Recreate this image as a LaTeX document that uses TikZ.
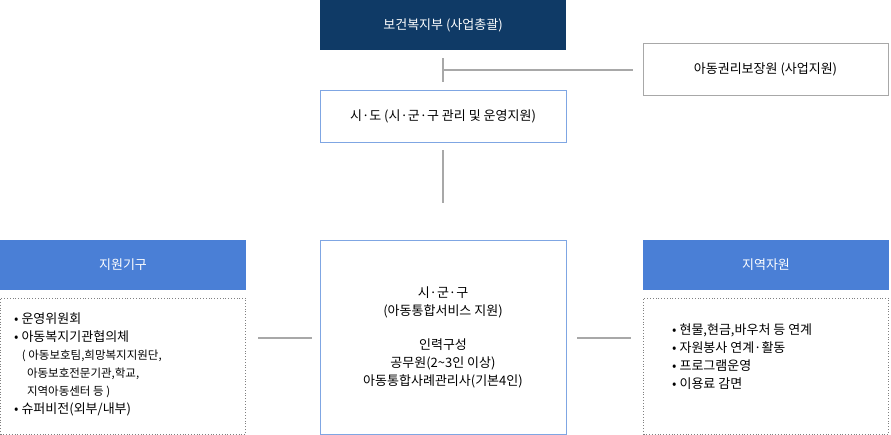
\documentclass[tikz,border=0pt]{standalone}
\usepackage{fontspec}
\setmainfont{Noto Sans CJK KR}
\usetikzlibrary{positioning}
\definecolor{navy}{HTML}{0F3A66}
\definecolor{headblue}{HTML}{4A7FD6}
\definecolor{lineblue}{HTML}{7FA6E3}
\definecolor{linegray}{HTML}{A8A8A8}
\begin{document}
\begin{tikzpicture}[x=1pt,y=-1pt,font=\fontsize{13}{18}\selectfont,
  box/.style={draw=lineblue,line width=0.8pt,minimum width=246pt,inner sep=0pt},
  head/.style={fill=headblue,text=white,minimum width=246pt,minimum height=50pt,inner sep=0pt},
  dotbox/.style={draw=gray,dotted,line width=0.8pt,minimum width=245pt,minimum height=136pt,inner sep=0pt},
  link/.style={linegray,line width=2pt}]
\useasboundingbox (0,0) rectangle (891,434);

% top row
\node[fill=navy,text=white,minimum width=246pt,minimum height=50pt,inner sep=0pt] (mohw) at (443,25) {보건복지부 (사업총괄)};
\node[draw=linegray,line width=0.8pt,minimum width=245pt,minimum height=52pt,inner sep=0pt] (rights) at (765.5,69) {아동권리보장원 (사업지원)};
\node[box,minimum height=52pt] (sido) at (443,116) {시·도 (시·군·구 관리 및 운영지원)};

% centre
\node[box,minimum height=194pt,align=center] (sigungu) at (443,337)
  {시·군·구\\(아동통합서비스 지원)\\[16pt]인력구성\\공무원(2\textasciitilde3인 이상)\\아동통합사례관리사(기본4인)};

% left side
\node[head] (supporth) at (123,265) {지원기구};
\node[dotbox] (support) at (123,366) {};
\node[anchor=north west,align=left,inner sep=0pt] (supportt) at (14,313)
  {•\ 운영위원회\\•\ 아동복지기관협의체\\
   {\fontsize{11.5}{16}\selectfont\ \ \ ( 아동보호팀,희망복지지원단,}\\
   {\fontsize{11.5}{16}\selectfont\ \ \ \ \ 아동보호전문기관,학교,}\\
   {\fontsize{11.5}{16}\selectfont\ \ \ \ \ 지역아동센터 등 )}\\
   •\ 슈퍼비전(외부/내부)};

% right side
\node[head] (resh) at (766,265) {지역자원};
\node[dotbox] (res) at (766,366) {};
\node[anchor=north west,align=left,inner sep=0pt] (rest) at (672,324)
  {•\ 현물,현금,바우처 등 연계\\•\ 자원봉사 연계·활동\\•\ 프로그램운영\\•\ 이용료 감면};

% connectors
\coordinate (t1) at (443,58);
\coordinate (t2) at (443,82);
\coordinate (j) at (443,70);
\coordinate (r1) at (633,70);
\coordinate (s1) at (443,150);
\coordinate (s2) at (443,203);
\coordinate (l1) at (258,338);
\coordinate (l2) at (312,338);
\coordinate (q1) at (577,338);
\coordinate (q2) at (631,338);
\draw[link] (t1) -- (t2);
\draw[link] (j) -- (r1);
\draw[link] (s1) -- (s2);
\draw[link] (l1) -- (l2);
\draw[link] (q1) -- (q2);
\end{tikzpicture}
\end{document}
